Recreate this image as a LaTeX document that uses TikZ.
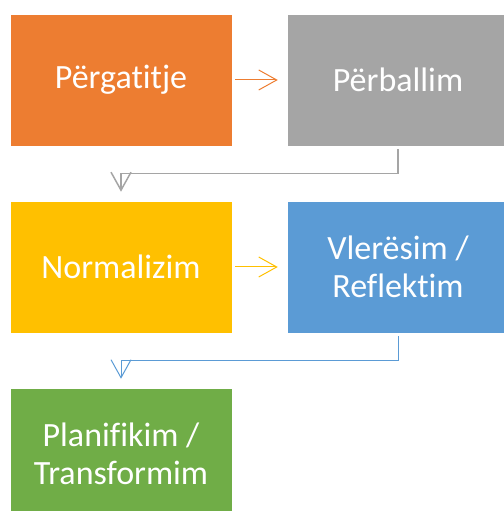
\documentclass[tikz,border=0pt]{standalone}
\usepackage{fontspec}
\setmainfont{Carlito}[Ligatures=NoCommon]
\usetikzlibrary{arrows.meta,calc}

\definecolor{naranja}{HTML}{ED7D31}
\definecolor{gris}{HTML}{A5A5A5}
\definecolor{amarillo}{HTML}{FFC000}
\definecolor{azul}{HTML}{5B9BD5}
\definecolor{verde}{HTML}{70AD47}

\begin{document}
\begin{tikzpicture}[x=1bp, y=1bp,
    caja/.style={draw=white, line width=0.5bp, minimum width=222bp, minimum height=132bp,
      inner sep=0pt, text=white, align=center, font=\fontsize{34bp}{38bp}\selectfont},
    flecha/.style={line width=1bp, -{Straight Barb[length=18bp, width=20bp]},
      shorten <=3bp, shorten >=9bp}]

\useasboundingbox (0,0) rectangle (504,511);

% Cajas
\node[caja, fill=naranja] (prep) at (121,431) {Përgatitje};
\node[caja, fill=gris] (perb) at (398,431) {Përballim};
\node[caja, fill=amarillo] (norm) at (121,244) {Normalizim};
\node[caja, fill=azul] (vler) at (398,244) {Vlerësim /\\Reflektim};
\node[caja, fill=verde] (plan) at (121,57) {Planifikim /\\Transformim};

% Flechas horizontales
\draw[flecha, naranja] (prep.east) -- (perb.west);
\draw[flecha, amarillo] (norm.east) -- (vler.west);

% Flechas de retorno
\coordinate (c1) at ($(perb.south)!0.5!(norm.north)$);
\draw[flecha, gris, line width=1.5bp] (perb.south) |- (c1) -| (norm.north);
\coordinate (c2) at ($(vler.south)!0.5!(plan.north)$);
\draw[flecha, azul] (vler.south) |- (c2) -| (plan.north);

\end{tikzpicture}
\end{document}
